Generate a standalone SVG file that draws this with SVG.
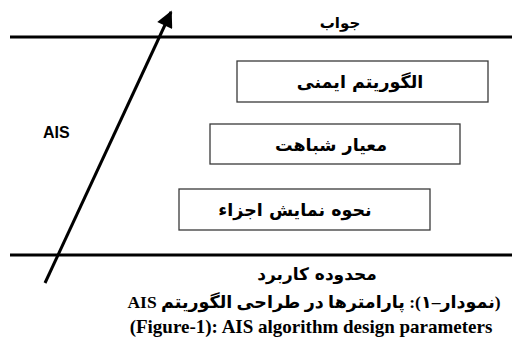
<svg xmlns="http://www.w3.org/2000/svg" width="512" height="351" viewBox="0 0 512 351">
<style>
.bg{fill:#fff}
.box{fill:#fff;stroke:#3a3a3a;stroke-width:1.3}
.hl{stroke:#000;stroke-width:3;fill:none}
.fa{font-family:"DejaVu Sans","Noto Sans",sans-serif;font-weight:bold;font-size:17.5px;fill:#000;text-anchor:middle}
.en{font-family:"Liberation Sans",Arial,sans-serif;font-weight:bold;font-size:16px;fill:#000}
.cap{font-family:"Liberation Serif","DejaVu Sans",serif;font-weight:bold;font-size:19px;fill:#000;text-anchor:middle}
</style>
<defs>
<marker id="ah" viewBox="0 0 10 10" refX="9" refY="5" markerWidth="7" markerHeight="5.5" markerUnits="strokeWidth" orient="auto">
<path d="M0,0 L10,5 L0,10 z" fill="#000"/>
</marker>
</defs>
<rect class="bg" width="512" height="351"/>
<g id="lines">
<line class="hl" x1="10" y1="37" x2="512" y2="37"/>
<line class="hl" x1="10" y1="255" x2="512" y2="255"/>
</g>
<g id="n1"><rect class="box" x="237" y="61" width="251" height="41"/><text class="fa" x="360" y="88" direction="rtl">الگوریتم ایمنی</text></g>
<g id="n2"><rect class="box" x="210" y="124" width="250" height="40"/><text class="fa" x="331" y="151" direction="rtl">معیار شباهت</text></g>
<g id="n3"><rect class="box" x="179" y="189" width="251" height="41"/><text class="fa" x="295" y="216" direction="rtl">نحوه نمایش اجزاء</text></g>
<g id="labels">
<text class="fa" x="340" y="28" style="font-size:15px" direction="rtl">جواب</text>
<text class="fa" x="317" y="280" style="font-size:17px" direction="rtl">محدوده کاربرد</text>
<text class="en" x="43" y="138">AIS</text>
</g>
<g id="connectors">
<line x1="45" y1="283" x2="171" y2="12" stroke="#000" stroke-width="3" marker-end="url(#ah)"/>
</g>
<g id="caption">
<text class="cap" x="314" y="308" style="font-size:17.5px" direction="rtl" unicode-bidi="embed">(نمودار–۱): پارامترها در طراحی الگوریتم AIS</text>
<text class="cap" x="311" y="333">(Figure-1): AIS algorithm design parameters</text>
</g>
</svg>
